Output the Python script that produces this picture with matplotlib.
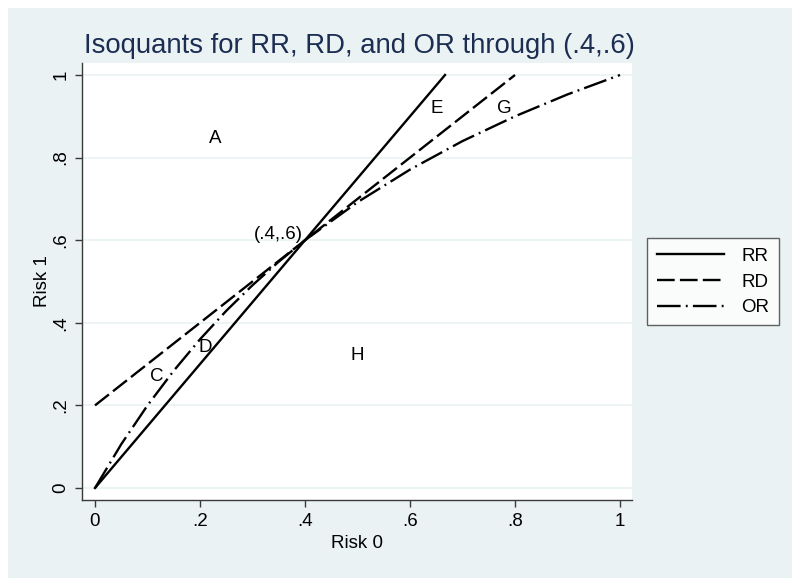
import matplotlib.pyplot as plt

# Curve values
rr_x = [0, 0.4, 0.6667]
rr_y = [0, 0.6, 1.0]

rd_x = [0, 0.4, 0.8]
rd_y = [0.2, 0.6, 1.0]

or_x = [0, 0.05, 0.1, 0.15, 0.2, 0.25, 0.3, 0.35, 0.4, 0.5, 0.6, 0.7, 0.8, 0.9, 1.0]
or_y = [0, 0.106, 0.2, 0.284, 0.36, 0.429, 0.491, 0.548, 0.6, 0.692, 0.771, 0.84, 0.9, 0.953, 1.0]

# Region labels
label_text = ["A", "E", "G", "(.4,.6)", "C", "D", "H"]
label_x = [0.229, 0.65, 0.779, 0.349, 0.118, 0.21, 0.499]
label_y = [0.847, 0.92, 0.92, 0.613, 0.271, 0.339, 0.32]

ticks = [0, 0.2, 0.4, 0.6, 0.8, 1.0]
tick_labels = ["0", ".2", ".4", ".6", ".8", "1"]

plt.rcParams['font.family'] = ['Liberation Sans', 'DejaVu Sans']
bg = '#EAF2F3'
axcol = '#3a3a3a'

fig = plt.figure(figsize=(8, 5.87), dpi=100)
fig.patch.set_facecolor('white')
fig.add_artist(plt.Rectangle((8 / 800, 1 - 578 / 587), 784 / 800, 570 / 587,
                             transform=fig.transFigure, facecolor=bg,
                             edgecolor='none', zorder=-10))

ax = fig.add_axes([82 / 800, 1 - 500 / 587, 550 / 800, 437 / 587])
ax.set_facecolor('white')
ax.set_xlim(-13 / 525, 1 + 12 / 525)
ax.set_ylim(-12 / 413, 1 + 12 / 413)

for t in ticks:
    ax.axhline(t, color=bg, lw=1.2, zorder=0)

ax.plot(rr_x, rr_y, color='black', lw=1.7, ls='-', label='RR')
ax.plot(rd_x, rd_y, color='black', lw=1.7, ls=(0, (7.5, 2.2)), label='RD')
ax.plot(or_x, or_y, color='black', lw=1.7, ls=(0, (10, 2.2, 0.8, 2.2)), label='OR')

for s, x, y in zip(label_text, label_x, label_y):
    ax.text(x, y, s, ha='center', va='center', fontsize=13.5, color='black')

ax.spines['top'].set_visible(False)
ax.spines['right'].set_visible(False)
for side in ['left', 'bottom']:
    ax.spines[side].set_color(axcol)
    ax.spines[side].set_linewidth(1.0)

ax.set_xticks(ticks)
ax.set_xticklabels(tick_labels)
ax.set_yticks(ticks)
ax.set_yticklabels(tick_labels, rotation=90, va='center')
ax.tick_params(axis='both', direction='out', length=5, width=1, color=axcol,
               labelsize=13.5, labelcolor='black', pad=4)

ax.set_xlabel('Risk 0', fontsize=13.5, labelpad=4)
ax.set_ylabel('Risk 1', fontsize=13.5, labelpad=1)

fig.text(84 / 800, 1 - 46 / 587, 'Isoquants for RR, RD, and OR through (.4,.6)',
         fontsize=19.8, color='#1C2D52', ha='left', va='center')

leg = ax.legend(loc='center left', bbox_to_anchor=(638 / 800, 1 - 282 / 587),
                bbox_transform=fig.transFigure, fontsize=13.5, frameon=True,
                fancybox=False, edgecolor=axcol, handlelength=3.6,
                borderpad=0.5, labelspacing=0.45, handletextpad=0.9)
leg.get_frame().set_linewidth(1.0)

fig.savefig('out.png', dpi=100)
